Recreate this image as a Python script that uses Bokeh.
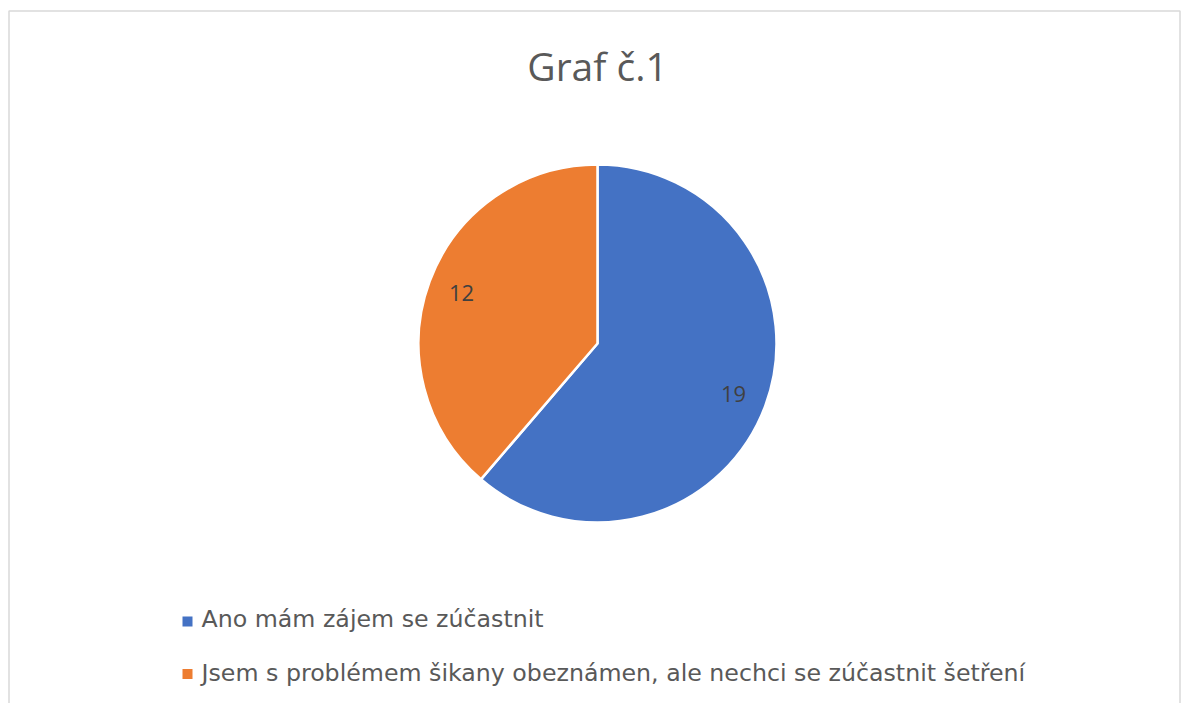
import math
from bokeh.plotting import figure
from bokeh.models import Range1d, ColumnDataSource
from bokeh.core.properties import value
from bokeh.embed import file_html
from bokeh.resources import INLINE

# ---- data ----
title_text = "Graf č.1"
categories = ["Ano mám zájem se zúčastnit",
              "Jsem s problémem šikany obeznámen, ale nechci se zúčastnit šetření"]
counts = [19, 12]
colors = ["#4472C4", "#ED7D31"]

# ---- layout (picture pixels; data y = REF_H - picture y) ----
W, H = 1181, 703
REF_H = 711
def py(y):
    return REF_H - y

cx, cy, R = 597, 343, 179
FONT = "Open Sans"
LEG_FONT = "DejaVu Sans"

p = figure(width=W, height=H, output_backend="svg", toolbar_location=None,
           x_axis_type=None, y_axis_type=None,
           x_range=Range1d(0, W), y_range=Range1d(REF_H - H, REF_H),
           min_border=0, min_border_left=0, min_border_right=0,
           min_border_top=0, min_border_bottom=0)
p.outline_line_color = None
p.grid.visible = False
p.background_fill_color = "white"
p.border_fill_color = "white"

# chart border (bottom edge lies below the visible page)
p.quad(left=[8.5], right=[W - 1.5], top=[py(10.5)], bottom=[py(760)],
       fill_color=None, line_color="#d9d9d9", line_width=1.5)

# pie wedges
total = sum(counts)
starts, ends, mids = [], [], []
a = math.pi / 2
for c in counts:
    span = 2 * math.pi * c / total
    starts.append(a)
    ends.append(a - span)
    mids.append(a - span / 2)
    a -= span

src = ColumnDataSource(dict(start=starts, end=ends, color=colors,
                            cat=categories, cnt=counts))
p.wedge(x=cx, y=py(cy), radius=R, start_angle="start", end_angle="end",
        direction="clock", fill_color="color", line_color="white",
        line_width=2.5, source=src)

# data labels
lr = 0.81 * R
lx = [cx + lr * math.cos(m) for m in mids]
ly = [py(cy) + lr * math.sin(m) for m in mids]
p.text(x=lx, y=ly, text=[str(c) for c in counts], text_align="center",
       text_baseline="middle", text_font=value(FONT), text_font_size="22px",
       text_color="#404040")

# title
p.text(x=[cx], y=[py(65)], text=[title_text], text_align="center",
       text_baseline="middle", text_font=value(FONT), text_font_size="39px",
       text_color="#595959")

# legend
sq_y = [py(621), py(673.5)]
txt_y = [py(618), py(672)]
p.scatter(x=[187] * len(categories), y=sq_y, marker="square", size=10,
          fill_color=colors, line_color=None)
p.text(x=[201] * len(categories), y=txt_y, text=categories, text_align="left",
       text_baseline="middle", text_font=value(LEG_FONT),
       text_font_size="23.7px", text_color="#595959")

open("out.html", "w").write(file_html(p, INLINE))
